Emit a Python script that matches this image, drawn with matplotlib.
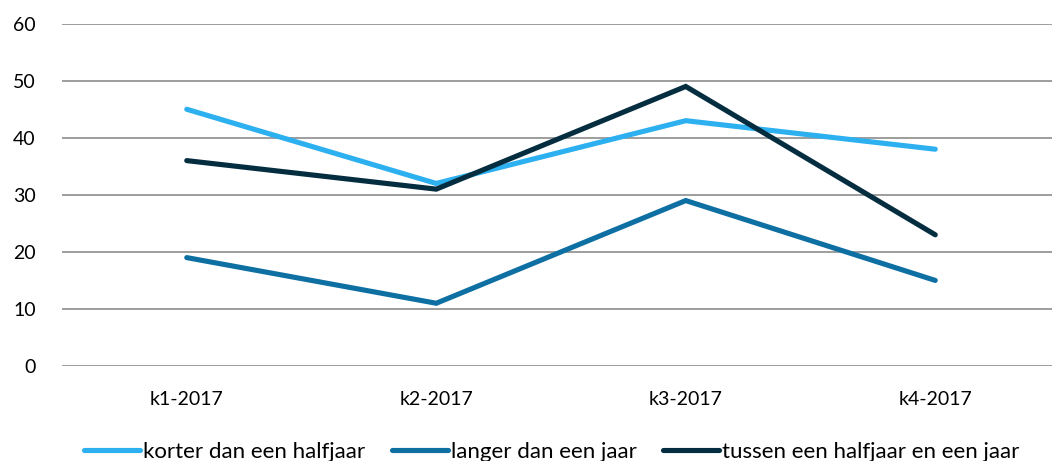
import matplotlib
matplotlib.use("Agg")
import matplotlib.pyplot as plt

categories = ["k1-2017", "k2-2017", "k3-2017", "k4-2017"]
series_names = ["korter dan een halfjaar", "langer dan een jaar", "tussen een halfjaar en een jaar"]
korter = [45, 32, 43, 38]
langer = [19, 11, 29, 15]
tussen = [36, 31, 49, 23]
colors = ["#2DB0EF", "#0E6FA3", "#052D40"]
yticks = [0, 10, 20, 30, 40, 50, 60]

plt.rcParams['font.family'] = ['Lato', 'DejaVu Sans']

W, H = 1052, 461
fig = plt.figure(figsize=(W/100, H/100), dpi=100)
ax = fig.add_axes([62/W, (H-366)/H, 998/W, (366-23.7)/H])

x = list(range(len(categories)))
for vals, name, c in zip([korter, langer, tussen], series_names, colors):
    ax.plot(x, vals, color=c, lw=3.7, label=name, solid_capstyle='round', solid_joinstyle='miter')

ax.set_xlim(-0.5, 3.5)
ax.set_ylim(0, 60)
ax.set_yticks(yticks)
ax.set_xticks(x)
ax.set_xticklabels(categories)
ax.grid(axis='y', color='#8C8C8C', lw=1.2)
ax.set_axisbelow(True)
for s in ax.spines.values():
    s.set_visible(False)
ax.tick_params(axis='both', length=0, labelsize=14, colors='#000000')
ax.tick_params(axis='y', pad=19)
ax.tick_params(axis='x', pad=18)

leg = fig.legend(loc='center', bbox_to_anchor=(552/W, (H-452)/H), ncol=3, frameon=False,
                 fontsize=16, handlelength=2.5, handletextpad=0.15, columnspacing=1.2)

fig.savefig("out.png", dpi=100)
